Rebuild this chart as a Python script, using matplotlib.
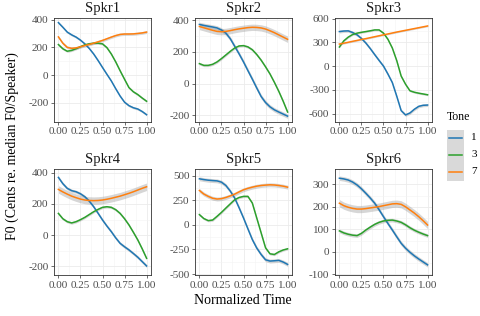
import numpy as np
import matplotlib
matplotlib.use("Agg")
import matplotlib.pyplot as plt
from matplotlib.lines import Line2D
from matplotlib.patches import Rectangle

plt.rcParams['font.family'] = ['Liberation Serif', 'DejaVu Serif']

# --- data (every 0.05 of normalized time) ---
time = [0.0, 0.05, 0.1, 0.15, 0.2, 0.25, 0.3, 0.35, 0.4, 0.45, 0.5,
        0.55, 0.6, 0.65, 0.7, 0.75, 0.8, 0.85, 0.9, 0.95, 1.0]
tones = ["1", "3", "7"]
speakers = ["Spkr1", "Spkr2", "Spkr3", "Spkr4", "Spkr5", "Spkr6"]

spkr1_t1 = [378, 345, 310, 290, 274, 252, 225, 192, 152, 105, 55,
            6, -42, -98, -151, -195, -220, -235, -244, -262, -285]
spkr1_t3 = [220, 190, 172, 178, 190, 205, 218, 226, 230, 230, 225,
            198, 152, 95, 31, -30, -90, -120, -140, -165, -188]
spkr1_t7 = [275, 230, 200, 193, 196, 204, 213, 221, 230, 240, 250,
            262, 274, 285, 293, 296, 296, 297, 300, 304, 310]

spkr2_t1 = [374, 368, 363, 358, 352, 339, 319, 284, 236, 188, 137,
            82, 28, -28, -82, -120, -147, -166, -180, -193, -206]
spkr2_t3 = [126, 115, 115, 122, 137, 158, 181, 204, 225, 238, 240,
            232, 214, 184, 148, 106, 61, 8, -49, -112, -180]
spkr2_t7 = [361, 353, 345, 337, 330, 328, 330, 335, 341, 346, 350,
            354, 356, 355, 352, 345, 334, 322, 308, 294, 280]

spkr3_t1 = [437, 444, 446, 425, 396, 350, 292, 222, 146, 72, 0,
            -100, -208, -380, -562, -617, -592, -545, -508, -495, -492]
spkr3_t3 = [242, 320, 367, 400, 417, 428, 437, 447, 458, 458, 417,
            340, 229, 70, -125, -229, -312, -330, -342, -352, -362]
spkr3_t7 = [279, 290, 302, 314, 325, 337, 348, 360, 372, 384, 396,
            407, 419, 431, 442, 453, 464, 475, 486, 497, 508]

spkr4_t1 = [370, 330, 300, 285, 278, 265, 246, 218, 182, 140, 97,
            58, 22, -18, -53, -75, -95, -118, -142, -170, -198]
spkr4_t3 = [139, 105, 86, 78, 86, 99, 114, 132, 150, 165, 178,
            182, 178, 163, 139, 105, 65, 18, -31, -88, -149]
spkr4_t7 = [293, 277, 263, 250, 240, 231, 225, 222, 221, 222, 225,
            230, 236, 243, 250, 259, 268, 278, 289, 300, 310]

spkr5_t1 = [470, 462, 456, 452, 449, 436, 402, 345, 274, 175, 71,
            -40, -149, -235, -301, -355, -368, -365, -361, -378, -402]
spkr5_t3 = [105, 65, 44, 50, 88, 128, 172, 215, 257, 280, 291,
            291, 223, 71, -81, -233, -294, -301, -274, -255, -243]
spkr5_t7 = [351, 315, 291, 272, 264, 268, 280, 296, 314, 337, 358,
            373, 385, 395, 402, 406, 409, 407, 402, 395, 385]

spkr6_t1 = [327, 324, 319, 310, 297, 280, 260, 239, 216, 187, 156,
            126, 97, 67, 38, 16, -2, -18, -32, -45, -58]
spkr6_t3 = [93, 84, 78, 74, 72, 82, 97, 110, 122, 131, 137,
            140, 141, 137, 131, 120, 107, 96, 87, 79, 72]
spkr6_t7 = [216, 205, 198, 193, 190, 190, 192, 195, 198, 201, 205,
            209, 213, 214, 211, 200, 186, 172, 156, 138, 119]

# approximate ribbon half-widths (tone 1, 3, 7)
ribbon = {
    "Spkr1": [8, 8, 10],
    "Spkr2": [14, 8, 20],
    "Spkr3": [18, 12, 10],
    "Spkr4": [10, 8, 24],
    "Spkr5": [20, 12, 20],
    "Spkr6": [10, 8, 16],
}

curves = {
    "Spkr1": [spkr1_t1, spkr1_t3, spkr1_t7],
    "Spkr2": [spkr2_t1, spkr2_t3, spkr2_t7],
    "Spkr3": [spkr3_t1, spkr3_t3, spkr3_t7],
    "Spkr4": [spkr4_t1, spkr4_t3, spkr4_t7],
    "Spkr5": [spkr5_t1, spkr5_t3, spkr5_t7],
    "Spkr6": [spkr6_t1, spkr6_t3, spkr6_t7],
}

yticks = {
    "Spkr1": [-200, 0, 200, 400],
    "Spkr2": [-200, 0, 200, 400],
    "Spkr3": [-600, -300, 0, 300, 600],
    "Spkr4": [-200, 0, 200, 400],
    "Spkr5": [-500, -250, 0, 250, 500],
    "Spkr6": [-100, 0, 100, 200, 300],
}
ylims = {
    "Spkr1": (-334, 415),
    "Spkr2": (-240, 418),
    "Spkr3": (-700, 615),
    "Spkr4": (-256, 424),
    "Spkr5": (-510, 570),
    "Spkr6": (-103, 368),
}
xticks = [0.0, 0.25, 0.5, 0.75, 1.0]
colors = ["#1f77b4", "#2ca02c", "#ff7f0e"]

# --- figure ---
W, H = 480, 316
fig = plt.figure(figsize=(W / 100, H / 100), dpi=100)

col_left = [54, 195, 335]
panel_w = 97
row_top = [17.5, 169]
panel_h = [104, 106]

for i, spk in enumerate(speakers):
    r, c = divmod(i, 3)
    ax = fig.add_axes([col_left[c] / W, 1 - (row_top[r] + panel_h[r]) / H,
                       panel_w / W, panel_h[r] / H])
    for k in range(3):
        y = np.array(curves[spk][k], dtype=float)
        hw = ribbon[spk][k]
        ax.fill_between(time, y - hw, y + hw, color="#999999", alpha=0.4,
                        lw=0, zorder=2)
        ax.plot(time, y, color=colors[k], lw=1.1, zorder=3,
                solid_joinstyle="round")

    ax.set_xlim(-0.05, 1.05)
    ax.set_ylim(*ylims[spk])
    ax.set_xticks(xticks)
    ax.set_xticklabels(["%.2f" % v for v in xticks])
    yt = yticks[spk]
    ax.set_yticks(yt)
    ax.set_yticklabels([str(v) for v in yt])
    ax.set_xticks([(a + b) / 2 for a, b in zip(xticks[:-1], xticks[1:])],
                  minor=True)
    ax.set_yticks([(a + b) / 2 for a, b in zip(yt[:-1], yt[1:])], minor=True)
    ax.grid(True, which="major", color="#ebebeb", lw=0.6, zorder=0)
    ax.grid(True, which="minor", color="#f3f3f3", lw=0.4, zorder=0)
    ax.set_axisbelow(True)
    ax.tick_params(which="major", length=2.5, width=0.5, color="#333333",
                   labelsize=8, labelcolor="#4d4d4d", pad=1.5)
    ax.tick_params(which="minor", length=0)
    for s in ax.spines.values():
        s.set_color("#333333")
        s.set_linewidth(0.6)
    ax.set_title(spk, fontsize=10.5, pad=4, color="#1a1a1a")

fig.text(243 / W, 1 - 300 / H, "Normalized Time", ha="center", va="center",
         fontsize=10)
fig.text(12 / W, 1 - 146 / H, "F0 (Cents re. median F0/Speaker)",
         ha="center", va="center", rotation=90, fontsize=10)

# --- legend ---
fig.text(447 / W, 1 - 117 / H, "Tone", ha="left", va="center", fontsize=8.5)
key_y = [138, 155, 172]
for k, ky in enumerate(key_y):
    fig.patches.append(Rectangle((447 / W, 1 - (ky + 8.5) / H), 17 / W, 17 / H,
                                 transform=fig.transFigure,
                                 facecolor="#d9d9d9", edgecolor="none"))
    fig.lines.append(Line2D([449 / W, 462 / W], [1 - ky / H, 1 - ky / H],
                            transform=fig.transFigure, color=colors[k],
                            lw=1.1))
    fig.text(471 / W, 1 - ky / H, tones[k], ha="left", va="center",
             fontsize=8)

fig.savefig("out.png", dpi=100)
